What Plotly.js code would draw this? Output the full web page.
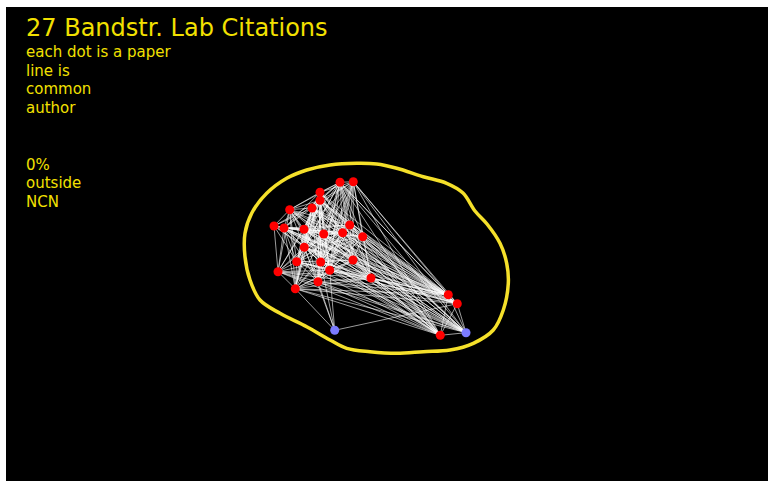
<!DOCTYPE html>
<html>
<head>
<meta charset="utf-8">
<script src="https://cdn.plot.ly/plotly-3.0.1.min.js"></script>
<style>
html,body{margin:0;padding:0;background:#ffffff;}
#chart{width:768px;height:481px;}
</style>
</head>
<body>
<div id="chart"></div>
<script>
// Paper nodes (network layout coordinates)
const nodeX = [340, 353.3, 320, 320, 289.7, 312, 274, 284, 304, 323.7, 342.7, 349.7, 362.7, 304.3, 296.7, 320.7, 353, 329.7, 278, 318, 295.3, 371, 448.3, 457.3, 440.3, 334.7, 466];
const nodeY = [182.3, 181.7, 192.3, 200.3, 209.7, 208, 226, 228, 229.3, 234, 232.7, 225, 236.7, 247.3, 261.7, 262, 260, 270.3, 271.7, 281.7, 288.7, 278, 294.7, 303.7, 335.3, 330.3, 332.7];
const nodeGroup = ['NCN','NCN','NCN','NCN','NCN','NCN','NCN','NCN','NCN','NCN','NCN','NCN','NCN','NCN','NCN','NCN','NCN','NCN','NCN','NCN','NCN','NCN','NCN','NCN','NCN','other','other'];

// Common-author links: node index -> linked nodes with higher index
const links = {
  0: [1,2,3,4,5,7,8,9,10,11,12,13,14,15,16,17,19,21,22,23,24,26],
  1: [2,3,5,8,9,10,11,12,13,15,16,17,19,21,22,23,24,26],
  2: [3,4,5,7,8,9,10,11,13,14,15,16,17,19,20,22,24,26],
  3: [4,5,6,8,9,10,11,12,13,14,15,16,17,18,19,20,21,22,23,24,26],
  4: [5,6,7,8,9,10,11,13,14,15,17,18,20,22,24,26],
  5: [6,7,8,9,10,11,12,13,14,15,16,17,19,20,21,22,23,24,26],
  6: [7,8,9,10,13,14,18,22,24],
  7: [8,9,10,11,12,13,14,15,16,18,19,20,21,22,23,24,26],
  8: [9,10,11,12,13,14,15,16,17,18,19,20,21,22,23,24,26],
  9: [10,11,12,13,14,15,16,17,18,19,20,21,22,23,24,26],
  10: [11,12,13,14,15,16,17,19,20,21,22,23,24,26],
  11: [12,13,14,15,16,17,19,21,22,23,24,26],
  12: [13,14,15,16,17,19,21,22,23,24,26],
  13: [14,15,16,17,18,19,20,21,22,23,24,25,26],
  14: [15,16,17,18,19,20,21,22,23,24,26],
  15: [16,17,18,19,20,21,22,23,24,25,26],
  16: [17,19,20,21,22,23,24,26],
  17: [18,19,20,21,22,23,24,25,26],
  18: [19,20,21,22,24,26],
  19: [20,21,22,23,24,25,26],
  20: [21,22,23,24,25,26],
  21: [22,23,24,26],
  22: [23,24,26],
  23: [24,25,26],
  24: [26]
};

// Hand-drawn NCN boundary loop
const loopX = [356.7, 330, 306.7, 286.7, 266.7, 251.7, 245, 245, 250, 260, 280, 306.7, 330, 346.7, 370, 396.7, 423.3, 450, 473.3, 493.3, 503.3, 508.3, 506.7, 500, 487, 475, 463, 446.7, 423.3, 396.7, 376.7, 356.7];
const loopY = [163.3, 165, 170, 178.3, 193.3, 213.3, 233.3, 256.7, 280, 300, 313.3, 326.7, 340, 348.3, 351.7, 353.3, 351.7, 350, 343.3, 330, 310, 283.3, 263.3, 243.3, 224, 211, 193, 183.3, 176.7, 168.3, 164, 163.3];

const titleText = '27 Bandstr. Lab Citations';
const noteLines = ['each dot is a paper', 'line is', 'common', 'author'];
const statLines = ['0%', 'outside', 'NCN'];

const groupColor = {NCN: '#ff0000', other: '#7b7bff'};

const ex = [], ey = [];
Object.keys(links).forEach(k => {
  const i = +k;
  links[k].forEach(j => {
    ex.push(nodeX[i], nodeX[j], null);
    ey.push(nodeY[i], nodeY[j], null);
  });
});

const traces = [
  {type: 'scatter', mode: 'lines', x: loopX, y: loopY,
   line: {color: '#f5e02a', width: 3.5, shape: 'spline', smoothing: 1},
   hoverinfo: 'skip'},
  {type: 'scatter', mode: 'lines', x: ex, y: ey,
   line: {color: 'rgba(255,255,255,0.68)', width: 0.9},
   hoverinfo: 'skip'},
  {type: 'scatter', mode: 'markers', x: nodeX, y: nodeY,
   marker: {size: 9, color: nodeGroup.map(g => groupColor[g]), line: {width: 0}},
   hoverinfo: 'skip'}
];

const ann = [];
ann.push({text: titleText, x: 24, y: 28, xref: 'x', yref: 'y', xanchor: 'left', yanchor: 'middle',
  showarrow: false, font: {family: 'DejaVu Sans', size: 24, color: '#f2e000'}});
const noteY = [52, 70.7, 89.4, 108];
noteLines.forEach((t, k) => ann.push({text: t, x: 24, y: noteY[k], xref: 'x', yref: 'y',
  xanchor: 'left', yanchor: 'middle', showarrow: false,
  font: {family: 'DejaVu Sans', size: 15, color: '#f2e000'}}));
const statY = [164.5, 183, 201.5];
statLines.forEach((t, k) => ann.push({text: t, x: 24, y: statY[k], xref: 'x', yref: 'y',
  xanchor: 'left', yanchor: 'middle', showarrow: false,
  font: {family: 'DejaVu Sans', size: 15, color: '#f2e000'}}));

const layout = {
  width: 768, height: 481,
  margin: {l: 6, r: 0, t: 7, b: 0, pad: 0},
  paper_bgcolor: '#ffffff', plot_bgcolor: '#000000',
  showlegend: false,
  xaxis: {range: [6, 768], visible: false, fixedrange: true},
  yaxis: {range: [481, 7], visible: false, fixedrange: true},
  annotations: ann
};

Plotly.newPlot('chart', traces, layout, {displayModeBar: false, staticPlot: true});
</script>
</body>
</html>
